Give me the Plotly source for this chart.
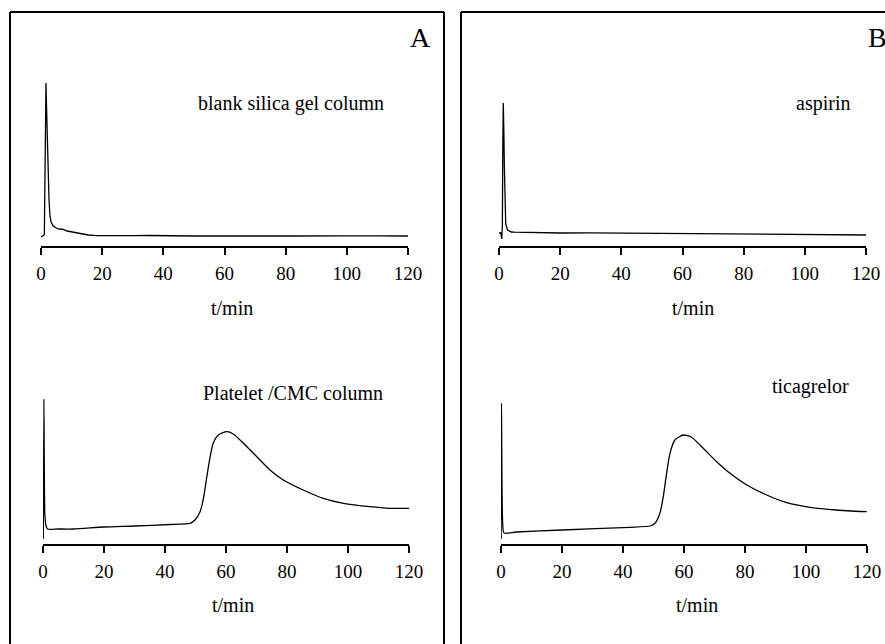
import plotly.graph_objects as go

W, H = 885, 644

# ---- data (signal in arbitrary units, time in minutes) ----
t_blank = [0, 0.4, 0.8, 1.1, 1.3, 1.5, 1.63, 1.8, 2.0, 2.2, 2.4, 2.6, 2.9, 3.3, 4.0, 5.0, 6.0, 7.3,
           8.5, 10, 11, 13, 15.5, 18, 25, 30, 35, 40, 50, 60, 64, 70, 80, 90, 100, 110, 120]
v_blank = [9, 9.5, 10.5, 12, 60, 140, 163, 140, 110, 88, 71, 48, 31, 24, 20, 18, 17, 16.6,
           15, 14, 13.4, 12, 11, 10.3, 10, 10.3, 10.5, 10.2, 10, 10, 10.3, 10, 10, 10.3, 10.2, 10.1, 10]

t_platelet = [0.1, 0.3, 0.6, 1.0, 1.5, 5, 10, 20, 30, 41.6, 48.2, 49.8, 51.5, 52.6, 53.7, 54.8, 55.8,
              57.5, 60.2, 62.4, 65.7, 70.1, 74.4, 78.8, 85.3, 91.9, 98.5, 107.2, 113.8, 120]
v_platelet = [5, 145, 30, 18, 15, 15, 15, 17, 18, 19.5, 20.7, 24, 32.3, 45.7, 67, 87.3, 100.7,
              109, 112.3, 110, 100.7, 87.3, 74, 64, 54, 45.7, 40.7, 37.3, 35.7, 35.7]

t_aspirin = [0, 0.6, 0.9, 1.1, 1.25, 1.4, 1.55, 1.75, 1.9, 2.2, 2.8, 4, 5, 10, 20, 30, 40, 50, 60,
             70, 80, 90, 100, 110, 120]
v_aspirin = [13, 13, 7, 20, 100, 143, 120, 80, 40, 22, 16, 14, 13.8, 13.5, 13, 13.2, 13, 12.8, 12.7,
             12.5, 12.3, 11.8, 11.5, 11.3, 11]

t_ticag = [0.05, 0.15, 0.5, 1.0, 5, 20, 42.3, 48.9, 50.5, 52.1, 53.2, 54.3, 55.4, 57, 59.8, 62.5,
           66.3, 70.7, 75.1, 80.6, 87.1, 93.7, 101.3, 110, 119.9]
v_ticag = [5, 141, 25, 11, 12, 14, 16.7, 18, 20.7, 30.7, 47.3, 70.7, 90.7, 104, 109, 106.7,
           95.7, 82.3, 70.7, 59, 49, 41.3, 36.7, 34, 32.3]

tick_vals = [0, 20, 40, 60, 80, 100, 120]
tick_text = ["0", "20", "40", "60", "80", "100", "120"]

panel_labels = ["A", "B"]
trace_labels = ["blank silica gel column", "Platelet /CMC column", "aspirin", "ticagrelor"]
axis_title = "t/min"

FONT = "Liberation Serif"

def px(x):
    return x / W

def py(y):
    return 1 - y / H

fig = go.Figure()

panels = [
    (t_blank, v_blank, 41, 408, 246, 70, 176, "linear"),
    (t_platelet, v_platelet, 43, 409, 544, 370, 174, "spline"),
    (t_aspirin, v_aspirin, 499, 866, 246, 70, 176, "linear"),
    (t_ticag, v_ticag, 501, 867, 544, 370, 174, "spline"),
]

for i, (t, v, x0, x1, yb, yt, ymax, shp) in enumerate(panels, start=1):
    sfx = "" if i == 1 else str(i)
    fig.add_trace(go.Scatter(x=t, y=v, mode="lines",
                             line=dict(color="black", width=1.3, shape=shp, smoothing=0.6),
                             xaxis="x" + sfx, yaxis="y" + sfx, showlegend=False,
                             cliponaxis=False, hoverinfo="skip"))
    fig.layout["xaxis" + sfx] = dict(
        domain=[px(x0), px(x1)], range=[0, 120], anchor="y" + sfx,
        showline=True, linecolor="black", linewidth=1.5, showgrid=False, zeroline=False,
        ticks="outside", ticklen=7, tickwidth=1.5, tickcolor="black",
        tickvals=tick_vals, ticktext=tick_text, ticklabelstandoff=2, automargin=False,
        tickfont=dict(family=FONT, size=19, color="black"), fixedrange=True)
    fig.layout["yaxis" + sfx] = dict(
        domain=[py(yb), py(yt)], range=[0, ymax], anchor="x" + sfx, visible=False,
        showgrid=False, zeroline=False, fixedrange=True, automargin=False)

annotations = []
for (xc, yc) in [(232, 308), (693, 308), (233, 605), (697, 605)]:
    annotations.append(dict(x=px(xc), y=py(yc), xref="paper", yref="paper", text=axis_title,
                            showarrow=False, xanchor="center", yanchor="middle",
                            font=dict(family=FONT, size=20, color="black")))
for txt, (xc, yc) in zip(trace_labels, [(291, 103), (293, 393), (823, 103), (810, 386)]):
    annotations.append(dict(x=px(xc), y=py(yc), xref="paper", yref="paper", text=txt,
                            showarrow=False, xanchor="center", yanchor="middle",
                            font=dict(family=FONT, size=20, color="black")))
for txt, (xc, yc) in zip(panel_labels, [(420, 38), (877, 38)]):
    annotations.append(dict(x=px(xc), y=py(yc), xref="paper", yref="paper", text=txt,
                            showarrow=False, xanchor="center", yanchor="middle", borderpad=0,
                            font=dict(family=FONT, size=28, color="black")))

frame = dict(color="black", width=2)
shapes = [
    dict(type="line", xref="paper", yref="paper", x0=px(10), x1=px(10), y0=0, y1=py(12), line=frame),
    dict(type="line", xref="paper", yref="paper", x0=px(10), x1=px(444), y0=py(12), y1=py(12), line=frame),
    dict(type="line", xref="paper", yref="paper", x0=px(444), x1=px(444), y0=0, y1=py(12), line=frame),
    dict(type="line", xref="paper", yref="paper", x0=px(461), x1=px(461), y0=0, y1=py(12), line=frame),
    dict(type="line", xref="paper", yref="paper", x0=px(461), x1=1, y0=py(12), y1=py(12), line=frame),
]

fig.update_layout(width=W, height=H,
                  margin=dict(l=0, r=0, t=0, b=0, pad=0, autoexpand=False),
                  paper_bgcolor="white", plot_bgcolor="white",
                  annotations=annotations, shapes=shapes, showlegend=False)

fig.write_html("out.html", config={"displayModeBar": False},
               post_script="document.documentElement.style.overflow='hidden';"
                           "document.body.style.margin='0';document.body.style.padding='0';"
                           "document.body.style.overflow='hidden';")
